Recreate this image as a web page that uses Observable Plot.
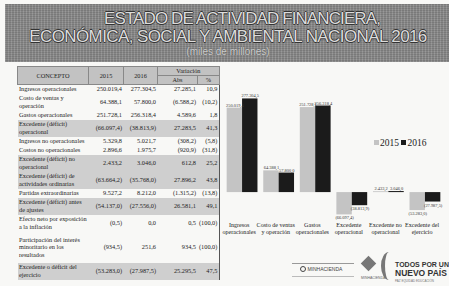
<!DOCTYPE html>
<html><head><meta charset="utf-8">
<script src="https://cdn.jsdelivr.net/npm/d3@7"></script>
<script src="https://cdn.jsdelivr.net/npm/@observablehq/plot@0.6"></script>
<style>
html,body{margin:0;padding:0;background:#f8f8f6;width:449px;height:286px;overflow:hidden;}
#page{position:relative;width:449px;height:286px;overflow:hidden;font-family:"Liberation Serif",serif;color:#222;}
#banner{position:absolute;left:5px;top:4px;width:446px;height:58px;background:#8a8a8a;
 background-image:repeating-linear-gradient(90deg,rgba(255,255,255,.07) 0 1px,rgba(0,0,0,.07) 1px 3px),repeating-linear-gradient(0deg,rgba(255,255,255,.06) 0 1px,rgba(0,0,0,.06) 1px 2px);}
.t{position:absolute;left:0;width:446px;text-align:center;font-family:"Liberation Sans Narrow","Liberation Sans",sans-serif;color:#dcdcdc;
 text-shadow:-0.7px 0 #333,0.7px 0 #333,0 -0.7px #333,0 0.7px #333;white-space:nowrap;}
#t1{top:5px;font-size:17px;letter-spacing:-0.9px;left:14px;}
#t2{top:23px;font-size:17px;letter-spacing:-0.6px;}
#t3{top:42px;font-size:10px;color:#cfcfcf;text-shadow:0 0 1px #444;}
#tbl{position:absolute;left:17px;top:66px;border-collapse:collapse;font-size:6.3px;line-height:7.6px;table-layout:fixed;}
#tbl td,#tbl th{padding:0 1.5px;vertical-align:middle;}
#tbl th{background:#c2c2c2;font-weight:normal;border:0.6px solid #888;height:8px;}
#tbl td.num{text-align:right;}
#tbl tr.sh td{background:#cfcfcf;}
#tbl{border-right:1.2px solid #555;}
#chart{position:absolute;left:218px;top:66px;}
#legend{position:absolute;left:374px;top:138px;font-size:9.5px;font-family:"Liberation Serif",serif;color:#222;white-space:nowrap;}
#legend span.sw{display:inline-block;width:5px;height:5px;margin-right:1px;vertical-align:1px;}
.lg{position:absolute;font-family:'Liberation Sans',sans-serif;white-space:nowrap;}
</style></head>
<body><div id="page">
<div id="banner">
 <div class="t" id="t1">ESTADO DE ACTIVIDAD FINANCIERA,</div>
 <div class="t" id="t2">ECONÓMICA, SOCIAL Y AMBIENTAL NACIONAL 2016</div>
 <div class="t" id="t3">(miles de millones)</div>
</div>
<table id="tbl"></table>
<div id="chart"></div>
<div id="legend"><span class="sw" style="background:#c4c4c4"></span>2015 <span class="sw" style="background:#1b1b1b"></span>2016</div>
<div style="position:absolute;left:292px;top:263px;width:62px;border-top:0.6px solid #999;"></div>
<div class="lg" style="left:300px;top:266px;font-size:5px;line-height:6px;color:#444;">
 <span style="display:inline-block;width:4px;height:4px;border:0.8px solid #444;border-radius:50%;vertical-align:-1px;"></span> MINHACIENDA</div>
<div style="position:absolute;left:292px;top:276px;width:62px;border-top:0.6px solid #bbb;"></div>
<div style="position:absolute;left:363px;top:258px;width:11px;height:11px;background:#777;transform:rotate(45deg);"></div>
<div class="lg" style="left:361px;top:276px;font-size:3.5px;line-height:4px;color:#666;">MINHACIENDA</div>
<div style="position:absolute;left:381px;top:252px;width:12px;height:28px;border-left:4px solid #777;border-radius:50% 0 0 50%;"></div>
<div class="lg" style="left:395px;top:261px;font-size:7px;line-height:8px;font-weight:bold;color:#333;">TODOS POR UN</div>
<div class="lg" style="left:395px;top:269px;font-size:8.5px;line-height:9px;font-weight:bold;color:#333;">NUEVO PAÍS</div>
<div class="lg" style="left:395px;top:279px;font-size:3px;line-height:4px;color:#777;">PAZ EQUIDAD EDUCACIÓN</div>
</div>
<script>
// ---- chart data ----
const categories = ["Ingresos operacionales","Costo de ventas y operación","Gastos operacionales","Excedente operacional","Excedente no operacional","Excedente del ejercicio"];
const categoryLabels = ["Ingresos\noperacionales","Costo de ventas\ny operación","Gastos\noperacionales","Excedente\noperacional","Excedente no\noperacional","Excedente del\nejercicio"];
const years = ["2015","2016"];
const values2015 = [250019.4, 64388.1, 251728.1, -66097.4, 2433.2, -53283.0];
const values2016 = [277304.5, 57800.0, 256318.4, -38813.9, 3046.0, -27987.5];
const yearColors = ["#c4c4c4","#1b1b1b"];

// ---- table data ----
const tConcepts = ["Ingresos operacionales","Costo de ventas y operación","Gastos operacionales","Excedente (déficit) operacional","Ingresos no operacionales","Costos no operacionales","Excedente (déficit) no operacional","Excedente (déficit) de actividades ordinarias","Partidas extraordinarias","Excedente (déficit) antes de ajustes","Efecto neto por exposición a la inflación","Participación del interés minoritario en los resultados","Excedente o déficit del ejercicio"];
const t2015 = ["250.019,4","64.388,1","251.728,1","(66.097,4)","5.329,8","2.896,6","2.433,2","(63.664,2)","9.527,2","(54.137,0)","(0,5)","(934,5)","(53.283,0)"];
const t2016 = ["277.304,5","57.800,0","256.318,4","(38.813,9)","5.021,7","1.975,7","3.046,0","(35.768,0)","8.212,0","(27.556,0)","0,0","251,6","(27.987,5)"];
const tAbs = ["27.285,1","(6.588,2)","4.589,6","27.283,5","(308,2)","(920,9)","612,8","27.896,2","(1.315,2)","26.581,1","0,5","934,5","25.295,5"];
const tPct = ["10,9","(10,2)","1,8","41,3","(5,8)","(31,8)","25,2","43,8","(13,8)","49,1","(100,0)","(100,0)","47,5"];
const tShaded = [false,false,false,true,false,false,true,true,false,true,false,false,true];
const tLines = [1,2,1,2,1,1,2,2,1,2,2,3,2];

// build table
const tbl = document.getElementById("tbl");
const colW = [71,35,34,40,20];
let html = "<colgroup>" + colW.map(w=>`<col style="width:${w}px">`).join("") + "</colgroup>";
html += `<tr><th rowspan="2">CONCEPTO</th><th rowspan="2">2015</th><th rowspan="2">2016</th><th colspan="2">Variación</th></tr><tr><th>Abs</th><th>%</th></tr>`;
const rowH = {1:9, 2:17, 3:31};
tConcepts.forEach((c,i)=>{
  html += `<tr class="${tShaded[i]?"sh":""}" style="height:${rowH[tLines[i]]}px"><td>${c}</td><td class="num">${t2015[i]}</td><td class="num">${t2016[i]}</td><td class="num">${tAbs[i]}</td><td class="num">${tPct[i]}</td></tr>`;
});
tbl.innerHTML = html;

// chart
const data = [];
categories.forEach((c,i)=>{
  data.push({cat:c, year:years[0], value:values2015[i]});
  data.push({cat:c, year:years[1], value:values2016[i]});
});
function fmt(v){
  const a = Math.abs(v).toFixed(1).split(".");
  const ip = a[0].replace(/\B(?=(\d{3})+(?!\d))/g,".");
  const s = ip + "," + a[1];
  return v < 0 ? "(" + s + ")" : s;
}
const pxPer = 2850;
const chart = Plot.plot({
  width: 240, height: 182,
  marginLeft: 0, marginRight: 0, marginTop: 0, marginBottom: 22,
  style: {fontFamily: "Liberation Serif, serif", background: "transparent", color: "#222"},
  fx: {domain: categories, paddingInner: 0.12, paddingOuter: 0.15, label: null},
  x: {domain: years, padding: 0, axis: null},
  y: {domain: [-29*pxPer, 131*pxPer], axis: null},
  color: {domain: years, range: yearColors},
  marks: [
    Plot.barY(data, {fx: "cat", x: "year", y: "value", fill: "year"}),
    Plot.text(data.filter(d=>d.value>=0), {fx: "cat", x: "year", y: "value", text: d=>fmt(d.value), lineAnchor: "bottom", dy: -1.5, fontSize: 4.6, fill: "#333"}),
    Plot.text(data.filter(d=>d.value<0), {fx: "cat", x: "year", y: "value", text: d=>fmt(d.value), lineAnchor: "top", dy: 1.5, fontSize: 4.6, fill: "#333"}),
    Plot.axisFx({anchor: "bottom", tickSize: 0, tickPadding: 2, fontSize: 6.3, lineHeight: 1.15, dx: -3,
      tickFormat: d => categoryLabels[categories.indexOf(d)], label: null})
  ]
});
document.getElementById("chart").appendChild(chart);
</script>
</body></html>
